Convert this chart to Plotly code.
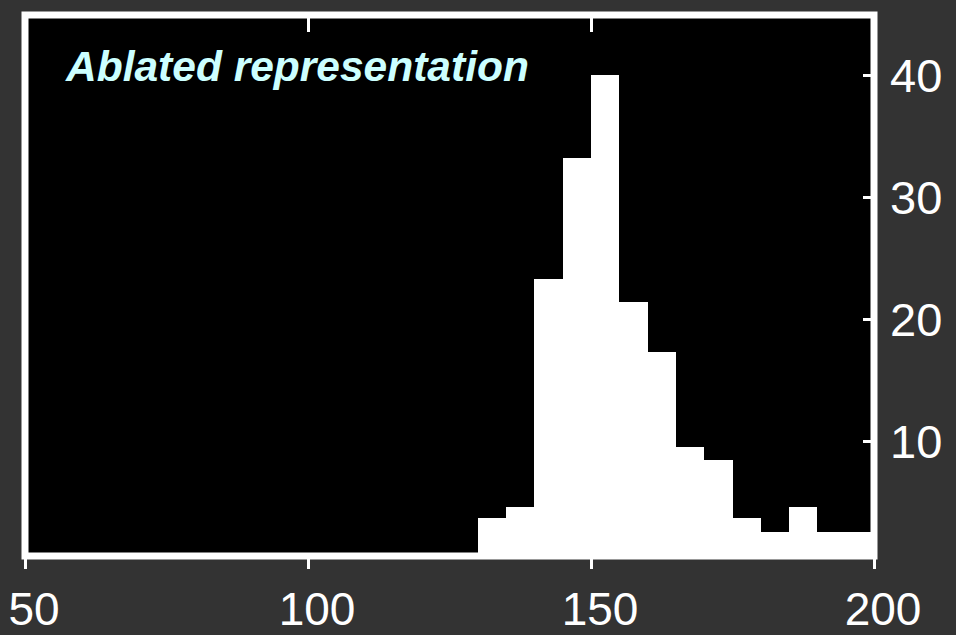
import plotly.graph_objects as go

# Histogram data (bin edges and counts)
bin_edges = [130, 135, 140, 145, 150, 155, 160, 165, 170, 175, 180, 185, 190, 195, 200]
counts = [3.7, 4.6, 23.3, 33.2, 40, 21.4, 17.3, 9.5, 8.5, 3.7, 2.6, 4.6, 2.6, 2.6]
x_ticks = [50, 100, 150, 200]
y_ticks = [10, 20, 30, 40]
title_text = "Ablated representation"

centers = [(a + b) / 2 for a, b in zip(bin_edges[:-1], bin_edges[1:])]
widths = [b - a for a, b in zip(bin_edges[:-1], bin_edges[1:])]

FONT = "Arial, Liberation Sans, sans-serif"
BG = "#333333"

fig = go.Figure()
fig.add_trace(go.Bar(x=centers, y=counts, width=widths,
                     marker=dict(color="white", line=dict(width=0)),
                     showlegend=False, hoverinfo="skip"))
fig.add_trace(go.Scatter(x=[None], y=[None], xaxis="x2", showlegend=False,
                         hoverinfo="skip"))

fig.update_layout(
    width=956, height=635,
    paper_bgcolor=BG, plot_bgcolor="black",
    margin=dict(l=25, r=82, t=14.5, b=78.5, autoexpand=False),
    bargap=0,
    xaxis=dict(range=[50, 200], tickvals=x_ticks, ticks="outside", ticklen=12,
               tickwidth=2.5, tickcolor="white", showgrid=False, zeroline=False,
               showline=False, automargin=False,
               tickfont=dict(family=FONT, size=46, color="white"),
               ticklabelshift=9, ticklabelstandoff=1),
    xaxis2=dict(range=[50, 200], matches="x", overlaying="x", side="top",
                tickvals=x_ticks, ticks="inside", ticklen=17, tickwidth=2.5,
                tickcolor="white", showticklabels=False, showgrid=False,
                zeroline=False, showline=False, automargin=False),
    yaxis=dict(range=[0.61, 44.93], tickvals=y_ticks, side="right",
               ticks="inside", ticklen=11, tickwidth=2.5, tickcolor="white",
               mirror=True, showgrid=False, zeroline=False, showline=False,
               automargin=False,
               tickfont=dict(family=FONT, size=47, color="white"),
               ticklabelstandoff=15),
    shapes=[dict(type="rect", xref="paper", yref="paper", x0=0, x1=1, y0=0, y1=1,
                 line=dict(color="white", width=7), layer="above")],
    annotations=[dict(text="<b><i>" + title_text + "</i></b>", xref="paper", yref="paper",
                      x=0.045, y=0.952, xanchor="left", yanchor="top", showarrow=False,
                      font=dict(family=FONT, size=42.5, color="#ccffff"))],
)

fig.write_html("out.html", config={"displayModeBar": False},
               post_script="document.body.style.margin='0';"
                           "document.body.style.background='#333333';")
